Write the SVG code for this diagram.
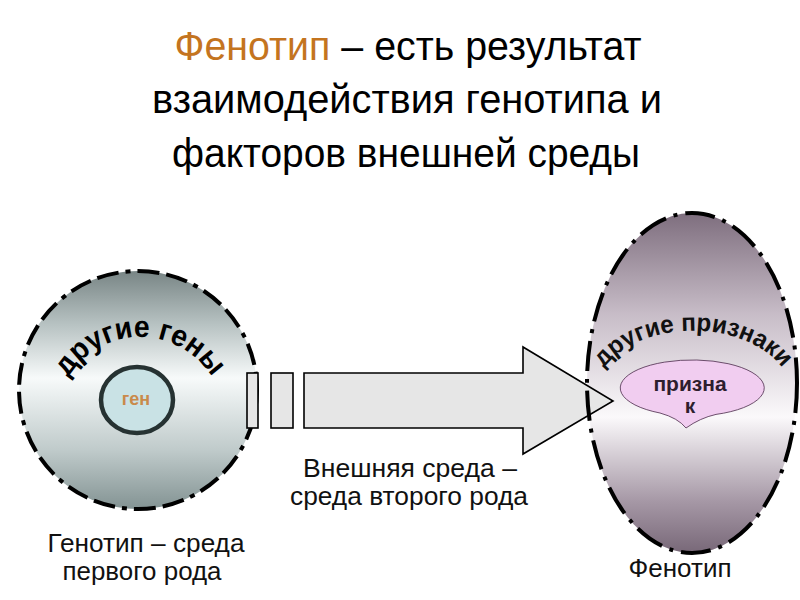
<svg xmlns="http://www.w3.org/2000/svg" width="800" height="600" viewBox="0 0 800 600">
<defs>
<linearGradient id="gGeno" x1="0" y1="0" x2="0" y2="1">
<stop offset="0" stop-color="#788585"/>
<stop offset="0.22" stop-color="#b6c1c1"/>
<stop offset="0.45" stop-color="#f7fafa"/>
<stop offset="0.75" stop-color="#c0cbcb"/>
<stop offset="1" stop-color="#839393"/>
</linearGradient>
<linearGradient id="gPheno" x1="0" y1="0" x2="0" y2="1">
<stop offset="0" stop-color="#7e6e7e"/>
<stop offset="0.3" stop-color="#c8bdc8"/>
<stop offset="0.6" stop-color="#fbf9fb"/>
<stop offset="0.85" stop-color="#a597a5"/>
<stop offset="1" stop-color="#786878"/>
</linearGradient>
<path id="arcL" d="M56,421 A84,84 0 0 1 224,421"/>
<path id="arcR" d="M601,372 A100,68 0 0 1 785,372"/>
</defs>
<style>
text{font-family:"Liberation Sans",Arial,sans-serif;}
.title{font-size:40px;fill:#000;}
.lbl{font-size:25px;fill:#111;}
.border{fill:none;stroke:#000;stroke-width:4;}
.shape{fill:#e6e6e6;stroke:#000;stroke-width:1.6;}
</style>
<rect width="800" height="600" fill="#fff"/>

<g id="title">
<text class="title" x="408" y="60" text-anchor="middle" textLength="467" lengthAdjust="spacingAndGlyphs"><tspan fill="#c4741f">Фенотип</tspan> – есть результат</text>
<text class="title" x="407" y="113" text-anchor="middle" textLength="510" lengthAdjust="spacingAndGlyphs">взаимодействия генотипа и</text>
<text class="title" x="406" y="167" text-anchor="middle" textLength="468" lengthAdjust="spacingAndGlyphs">факторов внешней среды</text>
</g>

<g id="genotype">
<circle cx="138" cy="390" r="119" fill="url(#gGeno)"/>
<circle cx="138" cy="390" r="119" class="border" stroke-dasharray="22 7 22 7 5 7"/>
<text font-size="30" font-weight="bold" fill="#000" text-anchor="middle"><textPath href="#arcL" startOffset="50%" textLength="172" lengthAdjust="spacingAndGlyphs">другие гены</textPath></text>
</g>

<g id="gene">
<ellipse cx="137" cy="400" rx="36" ry="33" fill="#c9e2e5" stroke="#263232" stroke-width="4.5"/>
<text x="136" y="405" font-size="18" font-weight="bold" fill="#c98a4b" text-anchor="middle">ген</text>
</g>

<g id="phenotype">
<ellipse cx="692" cy="383" rx="105" ry="170" fill="url(#gPheno)"/>
</g>

<g id="connectors">
<rect x="247" y="373" width="11" height="55" class="shape" fill="#ececec"/>
<rect x="271" y="373" width="22" height="55" class="shape"/>
<path d="M304,373 L523,373 L523,347 L613,401 L523,454 L523,428 L304,428 Z" class="shape"/>
</g>

<g id="phenotype-border">
<ellipse cx="692" cy="383" rx="105" ry="170" class="border" stroke-dasharray="30 8 4 8"/>
<text font-size="25" font-weight="bold" fill="#111" text-anchor="middle"><textPath href="#arcR" startOffset="50%" textLength="200" lengthAdjust="spacingAndGlyphs">другие признаки</textPath></text>
</g>

<g id="trait">
<path d="M660,413 A72,28 0 1 1 716,414.4 Q700,418 686,428 Q678,418 660,413 Z" fill="#f1cdf0" stroke="#4a2a4a" stroke-width="0.8"/>
<text x="690" y="391" font-size="21" font-weight="bold" fill="#2e1e2e" text-anchor="middle">призна</text>
<text x="690" y="413" font-size="21" font-weight="bold" fill="#2e1e2e" text-anchor="middle">к</text>
</g>

<g id="labels">
<text class="lbl" x="410" y="477" text-anchor="middle" textLength="214" lengthAdjust="spacingAndGlyphs">Внешняя среда –</text>
<text class="lbl" x="409" y="505" text-anchor="middle" textLength="238" lengthAdjust="spacingAndGlyphs">среда второго рода</text>
<text class="lbl" x="146" y="552" text-anchor="middle" textLength="197" lengthAdjust="spacingAndGlyphs">Генотип – среда</text>
<text class="lbl" x="142" y="580" text-anchor="middle" textLength="159" lengthAdjust="spacingAndGlyphs">первого рода</text>
<text class="lbl" x="680" y="577" text-anchor="middle" textLength="103" lengthAdjust="spacingAndGlyphs">Фенотип</text>
</g>
</svg>
